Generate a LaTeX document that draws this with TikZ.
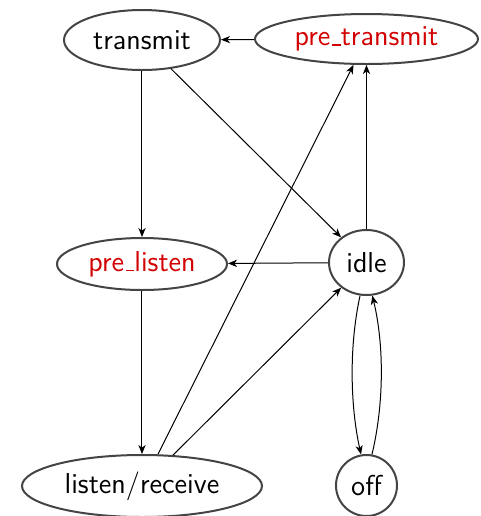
\documentclass[tikz,border=0pt]{standalone}
\usetikzlibrary{shapes.geometric,arrows.meta}
\definecolor{statered}{RGB}{210,0,0}
\definecolor{rim}{RGB}{68,68,68}
% short low rule in place of the underscore glyph
\newcommand\lowbar{\leavevmode\kern.06em\vbox{\hrule width .3em height .75pt}}
\begin{document}
\begin{tikzpicture}[x=0.5pt,y=-0.5pt,
  state/.style={ellipse,draw=rim,line width=1pt,inner sep=0pt,
    font=\sffamily\fontsize{14.4}{17}\selectfont},
  pre/.style={state,text=statered},
  link/.style={line width=0.5pt,-{Stealth[length=4.5pt,width=3.6pt,inset=1.3pt]}}]
\useasboundingbox (0,0) rectangle (481,516);
% states
\node[state,minimum width=78pt,minimum height=30pt] (tx) at (142,40) {transmit};
\node[pre,minimum width=111.5pt,minimum height=25pt] (ptx) at (366.5,39) {pre\lowbar transmit};
\node[pre,minimum width=85pt,minimum height=26pt] (plis) at (142,264) {pre\lowbar listen};
\node[state,minimum width=37.5pt,minimum height=32.5pt] (idle) at (366.5,262.5) {idle};
\node[state,minimum width=120pt,minimum height=31pt] (lis) at (142,486) {listen/receive};
\node[state,minimum width=30.5pt,minimum height=30.5pt] (off) at (366.5,485.5) {off};
% transitions
\draw[link] (ptx) -- (tx);
\draw[link] (tx) -- (plis);
\draw[link] (tx) -- (idle);
\draw[link] (idle) -- (plis);
\draw[link] (idle) -- (ptx);
\draw[link] (plis) -- (lis);
\draw[link] (lis) -- (ptx);
\draw[link] (lis) -- (idle);
\draw[link] (idle.259) .. controls +(-11,50) and +(-11,-50) .. (off.100);
\draw[link] (off.80) .. controls +(12,-50) and +(12,50) .. (idle.280);
\end{tikzpicture}
\end{document}
